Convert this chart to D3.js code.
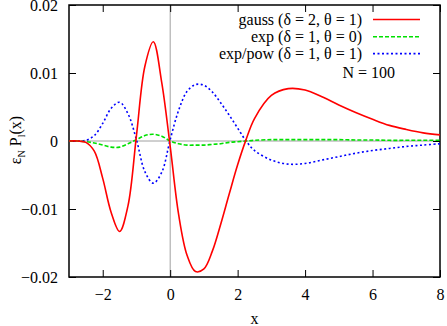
<!DOCTYPE html>
<html>
<head>
<meta charset="utf-8">
<script src="https://cdn.jsdelivr.net/npm/d3@7"></script>
<style>
  body { margin: 0; background: #fff; }
  text { font-family: "Liberation Serif", "DejaVu Serif", serif; font-size: 16px; fill: #000; }
</style>
</head>
<body>
<script>
// sample positions along x
const xs = [-3, -2.75, -2.5, -2.25, -2, -1.75, -1.5, -1.25, -1, -0.75, -0.5, -0.25,
  0, 0.25, 0.5, 0.75, 1, 1.25, 1.5, 1.75, 2, 2.25, 2.5, 3, 3.5, 4, 4.5, 5, 5.5, 6, 6.5, 7, 7.5, 8];

// gauss (delta = 2, theta = 1)
const gaussVals = [0, 0, -0.0002, -0.0015, -0.0055, -0.0105, -0.0133, -0.0095, 0.0008, 0.0110, 0.0146, 0.0086,
  -0.0008, -0.0108, -0.0168, -0.0192, -0.0188, -0.0162, -0.0122, -0.0078, -0.0035, 0.0002, 0.0033, 0.0067,
  0.0077, 0.0075, 0.0065, 0.0053, 0.0042, 0.0032, 0.0023, 0.0017, 0.0012, 0.0009];

// exp (delta = 1, theta = 0)
const expVals = [0, 0, -0.0001, -0.0003, -0.0006, -0.0009, -0.0009, -0.0004, 0.0002, 0.0008, 0.0010, 0.0007,
  0, -0.0004, -0.0006, -0.0006, -0.0006, -0.0005, -0.0004, -0.0002, -0.0001, 0, 0.0001, 0.0002,
  0.0002, 0.0002, 0.0002, 0.0002, 0.00015, 0.00015, 0.0001, 0.0001, 0.0001, 0.0001];

// exp/pow (delta = 1, theta = 1)
const expPowVals = [0, 0, 0.0001, 0.0008, 0.0026, 0.0048, 0.0057, 0.0040, 0.0002, -0.0045, -0.0062, -0.0046,
  0.0002, 0.0045, 0.0073, 0.0083, 0.0082, 0.0072, 0.0056, 0.0038, 0.0019, 0, -0.0014, -0.0028,
  -0.0034, -0.0033, -0.0028, -0.0023, -0.0018, -0.0014, -0.0011, -0.0008, -0.0006, -0.0004];

const seriesNames = ['gauss (\u03b4 = 2, \u03b8 = 1)', 'exp (\u03b4 = 1, \u03b8 = 0)', 'exp/pow (\u03b4 = 1, \u03b8 = 1)'];
const seriesColors = ['#ff0000', '#00e000', '#0000ff'];
const seriesDash = [null, '4,2', '2,2.5'];

const xTicks = [-2, 0, 2, 4, 6, 8];
const yTicks = [-0.02, -0.01, 0, 0.01, 0.02];

const W = 447, H = 326;
const margin = { top: 5, right: 7, bottom: 49, left: 69 };
const width = W - margin.left - margin.right;
const height = H - margin.top - margin.bottom;

const svg = d3.select('body').append('svg')
  .attr('width', W)
  .attr('height', H);

const g = svg.append('g')
  .attr('transform', `translate(${margin.left},${margin.top})`);

const x = d3.scaleLinear().domain([-3, 8]).range([0, width]);
const y = d3.scaleLinear().domain([-0.02, 0.02]).range([height, 0]);

// zero lines
g.append('line')
  .attr('x1', x(0)).attr('x2', x(0))
  .attr('y1', 0).attr('y2', height)
  .attr('stroke', '#a0a0a0').attr('stroke-width', 1);
g.append('line')
  .attr('x1', 0).attr('x2', width)
  .attr('y1', y(0)).attr('y2', y(0))
  .attr('stroke', '#a0a0a0').attr('stroke-width', 1);

// axes with inward ticks on all four sides
const fmtY = d => d === 0 ? '0' : d3.format('.2f')(d).replace('-', '-');
g.append('g')
  .attr('transform', `translate(0,${height})`)
  .call(d3.axisBottom(x).tickValues(xTicks).tickSize(-7).tickPadding(12).tickFormat(d3.format('d')))
  .call(a => a.select('.domain').remove());
g.append('g')
  .attr('transform', `translate(0,0)`)
  .call(d3.axisTop(x).tickValues(xTicks).tickSize(-7).tickFormat(''))
  .call(a => a.select('.domain').remove());
g.append('g')
  .call(d3.axisLeft(y).tickValues(yTicks).tickSize(-7).tickPadding(11).tickFormat(fmtY))
  .call(a => a.select('.domain').remove());
g.append('g')
  .attr('transform', `translate(${width},0)`)
  .call(d3.axisRight(y).tickValues(yTicks).tickSize(-7).tickFormat(''))
  .call(a => a.select('.domain').remove());

g.selectAll('.tick line').attr('stroke', '#000').attr('stroke-width', 1);
g.selectAll('.tick text')
  .style('font-family', '"Liberation Serif", serif')
  .style('font-size', '16px')
  .attr('fill', '#000');

// frame
g.append('rect')
  .attr('width', width).attr('height', height)
  .attr('fill', 'none').attr('stroke', '#000').attr('stroke-width', 1.5);

// curves
const allSeries = [gaussVals, expVals, expPowVals];
const line = d3.line()
  .x((d, i) => x(xs[i]))
  .y(d => y(d))
  .curve(d3.curveCatmullRom);

const clip = g.append('clipPath').attr('id', 'clip')
  .append('rect').attr('width', width).attr('height', height);

allSeries.slice().reverse().forEach((vals, ri) => {
  const i = allSeries.length - 1 - ri;
  g.append('path')
    .datum(vals)
    .attr('clip-path', 'url(#clip)')
    .attr('d', line)
    .attr('fill', 'none')
    .attr('stroke', seriesColors[i])
    .attr('stroke-width', 1.6)
    .attr('stroke-dasharray', seriesDash[i]);
});

// legend
const legY = [19.5, 36.8, 53.6];
seriesNames.forEach((name, i) => {
  svg.append('text')
    .attr('x', 362).attr('y', legY[i]).attr('dy', '0.33em')
    .attr('text-anchor', 'end')
    .text(name);
  svg.append('line')
    .attr('x1', 373).attr('x2', 420)
    .attr('y1', legY[i]).attr('y2', legY[i])
    .attr('stroke', seriesColors[i])
    .attr('stroke-width', 1.6)
    .attr('stroke-dasharray', seriesDash[i]);
});
svg.append('text')
  .attr('x', 395).attr('y', 72.5).attr('dy', '0.33em')
  .attr('text-anchor', 'end')
  .text('N = 100');

// axis titles
svg.append('text')
  .attr('x', margin.left + x(2.5)).attr('y', 324)
  .attr('text-anchor', 'middle')
  .text('x');

const yt = svg.append('text')
  .attr('transform', 'translate(21,140) rotate(-90)')
  .attr('text-anchor', 'middle');
yt.append('tspan').text('\u03b5');
yt.append('tspan').attr('dy', 4).style('font-size', '10px').text('N');
yt.append('tspan').attr('dy', -4).text(' P');
yt.append('tspan').attr('dy', 4).style('font-size', '10px').text('l');
yt.append('tspan').attr('dy', -4).text('(x)');
</script>
</body>
</html>
